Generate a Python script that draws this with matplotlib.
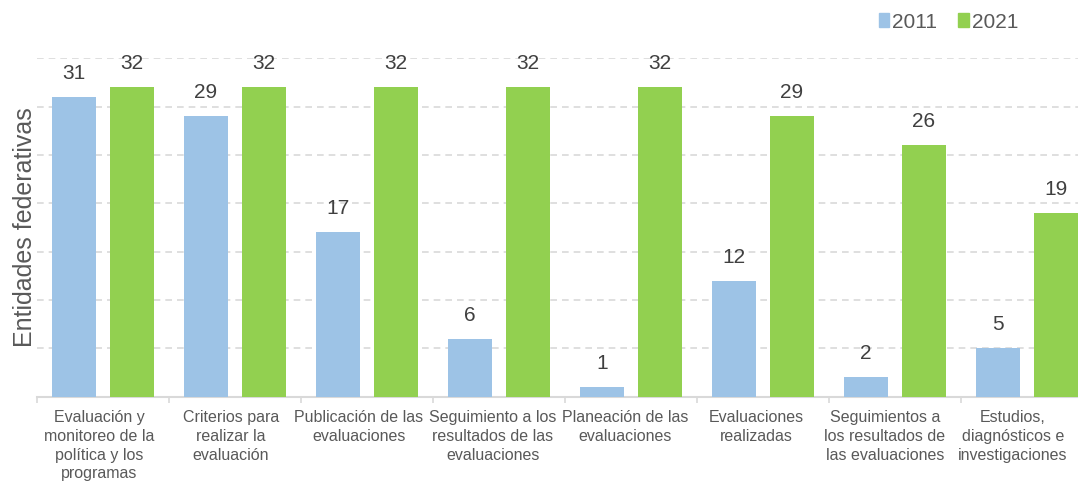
import numpy as np
from matplotlib import pyplot as plt
from matplotlib.patches import Patch
from matplotlib.ticker import FixedLocator
from matplotlib.transforms import ScaledTranslation

CATEGORIES = [
    "Evaluación y\nmonitoreo de la\npolítica y los\nprogramas",
    "Criterios para\nrealizar la\nevaluación",
    "Publicación de las\nevaluaciones",
    "Seguimiento a los\nresultados de las\nevaluaciones",
    "Planeación de las\nevaluaciones",
    "Evaluaciones\nrealizadas",
    "Seguimientos a\nlos resultados de\nlas evaluaciones",
    "Estudios,\ndiagnósticos e\ninvestigaciones",
]
VALUES_2011 = [31, 29, 17, 6, 1, 12, 2, 5]
VALUES_2021 = [32, 32, 32, 32, 32, 29, 26, 19]
SERIES_LABELS = ["2011", "2021"]

BLUE = "#9DC3E6"
GREEN = "#92D050"
GRID_GRAY = "#D9D9D9"
TEXT_GRAY = "#595959"

plt.rcParams["font.family"] = ["Liberation Sans", "DejaVu Sans"]

fig = plt.figure(figsize=(10.78, 4.84), dpi=100)
ax = fig.add_axes([37 / 1078, 87.5 / 484, 1 - 37 / 1078, 338.2 / 484])

x = np.arange(len(CATEGORIES))
width = 0.34
offset = 0.22
bars_2011 = ax.bar(x - offset, VALUES_2011, width, color=BLUE, zorder=3)
bars_2021 = ax.bar(x + offset, VALUES_2021, width, color=GREEN, zorder=3)

for bars in (bars_2011, bars_2021):
    for bar in bars:
        ax.annotate(
            f"{int(bar.get_height())}",
            xy=(bar.get_x() + bar.get_width() / 2, bar.get_height()),
            xytext=(0, 10),
            textcoords="offset points",
            ha="center",
            va="bottom",
            fontsize=15,
            color="#404040",
            annotation_clip=False,
        )

ax.set_ylim(0, 35)
ax.set_xlim(-0.5, 7.5 - 15 / 132)
ax.set_yticks(np.arange(5, 36, 5))
ax.yaxis.grid(True, color=GRID_GRAY, linestyle=(0, (4, 3)), linewidth=1.2, zorder=0)
ax.tick_params(axis="y", length=0, labelleft=False)

ax.set_xticks(x)
ax.set_xticklabels(CATEGORIES, fontsize=11.5, color=TEXT_GRAY, linespacing=1.3, va="top")
ax.tick_params(axis="x", which="major", length=0, pad=10)
ax.xaxis.set_minor_locator(FixedLocator(np.arange(-0.5, 7.0, 1)))
ax.tick_params(axis="x", which="minor", length=4, color=GRID_GRAY, width=1.2)

# labels sit a little left of the category centre, as in the source
shifts = [-4, -4, -8, -6, -6, -7, -10, -14]
for lbl, dx in zip(ax.get_xticklabels(), shifts):
    lbl.set_transform(lbl.get_transform() + ScaledTranslation(dx / 100, 0, fig.dpi_scale_trans))

for side in ("top", "right", "left"):
    ax.spines[side].set_visible(False)
ax.spines["bottom"].set_color(GRID_GRAY)
ax.spines["bottom"].set_linewidth(1.5)

ax.set_ylabel("Entidades federativas", fontsize=18, color=TEXT_GRAY, labelpad=0)

handles = [Patch(color=BLUE), Patch(color=GREEN)]
fig.legend(
    handles,
    SERIES_LABELS,
    loc="upper right",
    bbox_to_anchor=(1037 / 1078, 1 + 6 / 484),
    ncol=2,
    frameon=False,
    fontsize=15,
    handlelength=0.5,
    handleheight=0.65,
    handletextpad=0.15,
    columnspacing=1.0,
    labelcolor=TEXT_GRAY,
)

fig.savefig("out.png", dpi=100)
